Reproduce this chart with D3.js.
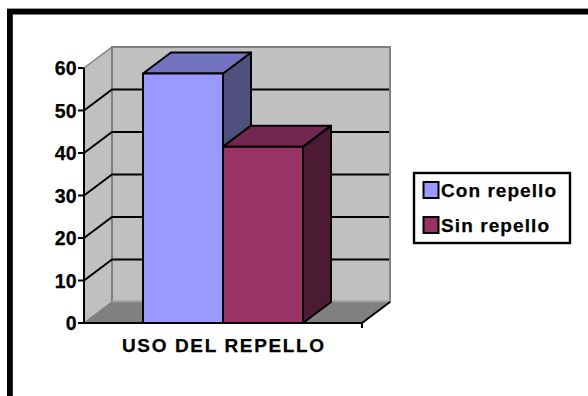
<!DOCTYPE html>
<html><head><meta charset="utf-8">
<script src="https://cdn.jsdelivr.net/npm/d3@7"></script>
<style>html,body{margin:0;padding:0;background:#fff}svg{display:block}
text{font-family:"Liberation Sans",Arial,sans-serif;font-weight:bold;fill:#000;stroke:#000;stroke-width:0.25px}</style>
</head><body><svg id="c" width="588" height="396"></svg>
<script>
const category = "USO DEL REPELLO";
const seriesNames = ["Con repello", "Sin repello"];
const seriesValues = [58.7, 41.5];
const frontColors = ["#9999ff", "#993366"];
const topColors = ["#7373bf", "#732650"];
const sideColors = ["#50507f", "#4d1a33"];
const yTicks = [0, 10, 20, 30, 40, 50, 60];

const svg = d3.select("#c");
const left = 84, right = 362, bottom = 323, topY = 68, dx = 28, dy = -21;
const y = d3.scaleLinear().domain([0, 60]).range([bottom, topY]);
const x = d3.scaleBand().domain(seriesNames).range([left, right]).paddingInner(0).paddingOuter(0.7375);
const poly = pts => pts.map(p => p.join(",")).join(" ");

// frame (top and left edges only)
svg.append("rect").attr("x", 7).attr("y", 8).attr("width", 581).attr("height", 1).attr("fill", "#999");
svg.append("rect").attr("x", 7).attr("y", 9).attr("width", 581).attr("height", 5.5).attr("fill", "#000");
svg.append("rect").attr("x", 7).attr("y", 9).attr("width", 5.8).attr("height", 387).attr("fill", "#000");

// walls
const wall = svg.append("g");
wall.append("polygon").attr("points", poly([[left, y(60)], [left + dx, y(60) + dy], [left + dx, bottom + dy], [left, bottom]]))
  .attr("fill", "#c0c0c0").attr("stroke", "#808080").attr("stroke-width", 1.5);
wall.append("polygon").attr("points", poly([[left + dx, y(60) + dy], [right + dx, y(60) + dy], [right + dx, bottom + dy], [left + dx, bottom + dy]]))
  .attr("fill", "#c0c0c0").attr("stroke", "#808080").attr("stroke-width", 2);
wall.append("polygon").attr("points", poly([[left, bottom], [left + dx, bottom + dy], [right + dx, bottom + dy], [right, bottom]]))
  .attr("fill", "#808080").attr("stroke", "none");
wall.append("line").attr("x1", left + dx).attr("x2", right + dx).attr("y1", bottom + dy - 0.5).attr("y2", bottom + dy - 0.5)
  .attr("stroke", "#999").attr("stroke-width", 2);

// gridlines
const grid = yTicks.filter(t => t > 0);
svg.append("g").selectAll("path").data(grid).join("path")
  .attr("d", t => `M${left},${y(t)}L${left + dx},${y(t) + dy}L${right + dx - 1},${y(t) + dy}`)
  .attr("fill", "none").attr("stroke", t => t === 60 ? "none" : "#000").attr("stroke-width", 2);

// floor front edge and axis
svg.append("path").attr("d", `M${left},${bottom}L${right},${bottom}L${right},${bottom + 5}M${right},${bottom}L${right + dx},${bottom + dy}`)
  .attr("fill", "none").attr("stroke", "#000").attr("stroke-width", 2);
svg.append("line").attr("x1", left).attr("x2", left).attr("y1", y(60)).attr("y2", bottom).attr("stroke", "#000").attr("stroke-width", 2);

// y ticks + labels
const ticks = svg.append("g").selectAll("g").data(yTicks).join("g").attr("transform", t => `translate(0,${y(t)})`);
ticks.append("line").attr("x1", 78).attr("x2", left).attr("stroke", "#000").attr("stroke-width", 2);
ticks.append("text").attr("x", 76.5).attr("y", 0).attr("dy", "0.36em").attr("text-anchor", "end")
  .attr("font-size", 19.5).text(t => t);

// 3D bars
const bars = svg.append("g").selectAll("g").data(seriesNames).join("g");
const barPts = (n, i) => ({ x0: x(n), x1: x(n) + x.bandwidth(), yt: y(seriesValues[i]) });
bars.append("polygon").attr("points", (n, i) => { const b = barPts(n, i);
    return poly([[b.x1, bottom], [b.x1 + dx, bottom + dy], [b.x1 + dx, b.yt + dy], [b.x1, b.yt]]); })
  .attr("fill", (n, i) => sideColors[i]);
bars.append("polygon").attr("points", (n, i) => { const b = barPts(n, i);
    return poly([[b.x0, b.yt], [b.x0 + dx, b.yt + dy], [b.x1 + dx, b.yt + dy], [b.x1, b.yt]]); })
  .attr("fill", (n, i) => topColors[i]);
bars.append("rect").attr("x", n => x(n)).attr("width", x.bandwidth())
  .attr("y", (n, i) => y(seriesValues[i])).attr("height", (n, i) => bottom - y(seriesValues[i]))
  .attr("fill", (n, i) => frontColors[i]);
bars.selectAll("polygon,rect").attr("stroke", "#000").attr("stroke-width", 2).attr("stroke-linejoin", "round");

// category label
svg.append("text").attr("x", 122).attr("y", 351.5).attr("font-size", 19)
  .attr("textLength", 202).attr("lengthAdjust", "spacing").text(category);

// legend
svg.append("rect").attr("x", 414).attr("y", 173).attr("width", 156).attr("height", 70)
  .attr("fill", "#fff").attr("stroke", "#000").attr("stroke-width", 2.4);
const lg = svg.append("g").selectAll("g").data(seriesNames).join("g")
  .attr("transform", (n, i) => `translate(0,${i * 35})`);
lg.append("rect").attr("x", 423.5).attr("y", 182).attr("width", 15).attr("height", 16)
  .attr("fill", (n, i) => frontColors[i]).attr("stroke", "#000").attr("stroke-width", 2);
lg.append("text").attr("x", 441).attr("y", 196.5).attr("font-size", 19)
  .attr("textLength", (n, i) => [115, 108][i]).attr("lengthAdjust", "spacing").text(n => n);
</script></body></html>
